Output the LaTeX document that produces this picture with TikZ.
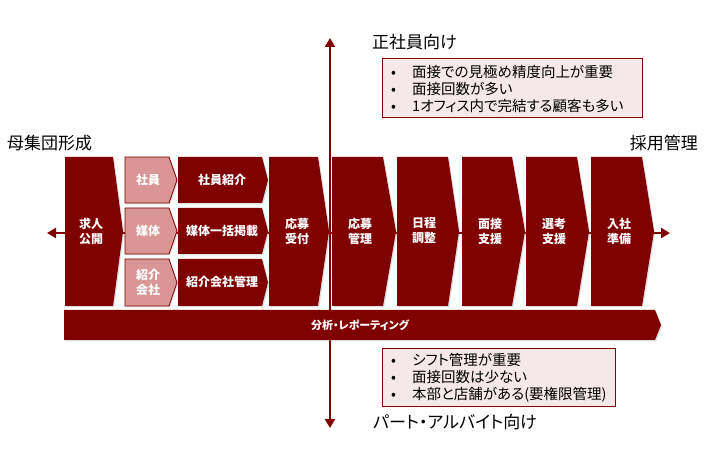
\documentclass[tikz,border=0pt]{standalone}
\usepackage{fontspec}
\setmainfont{Noto Sans CJK JP}
\newfontfamily\jpp{Noto Sans CJK JP}[RawFeature=+palt]
\usetikzlibrary{arrows.meta,shadows}
\definecolor{dred}{HTML}{800000}
\definecolor{pinkf}{HTML}{D99694}
\definecolor{infof}{HTML}{F5E8E8}
\tikzset{
  chev/.style={fill=dred, drop shadow={shadow xshift=1.2pt,shadow yshift=-1.5pt,opacity=0.25}},
  pchev/.style={fill=pinkf, draw=dred, line width=0.8pt, drop shadow={shadow xshift=1.2pt,shadow yshift=-1.5pt,opacity=0.25}},
  wlabel/.style={text=white, font=\bfseries\fontsize{12}{15}\selectfont, align=center, inner sep=0pt},
  blabel/.style={text=white, font=\bfseries\fontsize{11}{13}\selectfont, inner sep=0pt},
  head/.style={font=\fontsize{17}{20}\selectfont, inner sep=0pt},
  axis/.style={draw=dred, line width=2pt},
  infobox/.style={draw=dred, fill=infof, line width=1pt, inner sep=0pt},
  bullets/.style={font=\jpp\fontsize{14.5}{17}\selectfont, align=left, inner sep=0pt, anchor=west},
}
\newcommand\bul{\makebox[21pt][l]{•}}
\newcommand\chevshape[6]{% style, left, right, apex, top, bottom
  \path[#1] (#2,#5) -- (#3,#5) -- (#4,{(#5+#6)/2}) -- (#3,#6) -- (#2,#6) -- cycle;}
\begin{document}
\begin{tikzpicture}[x=1pt,y=-1pt]
\useasboundingbox (0,0) rectangle (705,449);
% axes
\coordinate (hl) at (47,233);
\coordinate (hr) at (670,233);
\coordinate (vt) at (330,38);
\coordinate (vb) at (330,428);
\draw[axis, {Triangle[width=10pt,length=9pt]}-{Triangle[width=10pt,length=9pt]}] (hl) -- (hr);
\draw[axis, {Triangle[width=10pt,length=9pt]}-{Triangle[width=10pt,length=9pt]}] (vt) -- (vb);
% main chevrons
\chevshape{chev}{65}{113}{123}{157}{306}
\chevshape{chev}{269}{318}{329}{157}{306}
\chevshape{chev}{332}{383}{396}{157}{306}
\chevshape{chev}{397}{448}{459}{157}{306}
\chevshape{chev}{462}{512}{525}{157}{306}
\chevshape{chev}{526}{577}{589}{157}{306}
\chevshape{chev}{591}{642}{654}{157}{306}
% small rows
\chevshape{pchev}{125}{169}{177}{157}{203}
\chevshape{pchev}{125}{169}{177}{208}{254}
\chevshape{pchev}{125}{169}{177}{259}{306}
\chevshape{chev}{178}{262}{268}{157}{203}
\chevshape{chev}{178}{262}{268}{208}{254}
\chevshape{chev}{178}{262}{268}{259}{306}
% bottom bar
\chevshape{chev}{64}{655}{661}{310}{340}
% labels
\node[wlabel] (kyujin) at (91,231) {求人\\公開};
\node[wlabel] (shain) at (148,180) {社員};
\node[wlabel] (baitai) at (148,231) {媒体};
\node[wlabel] (shokaigaisha) at (148,282) {紹介\\会社};
\node[wlabel] (shainshokai) at (222,180) {社員紹介};
\node[wlabel] (ikkatsu) at (222,231) {媒体一括掲載};
\node[wlabel] (kanri) at (222,282) {紹介会社管理};
\node[wlabel] (uketsuke) at (297,231) {応募\\受付};
\node[wlabel] (oubokanri) at (360,231) {応募\\管理};
\node[wlabel] (nittei) at (424,231) {日程\\調整};
\node[wlabel] (mensetsu) at (490,231) {面接\\支援};
\node[wlabel] (senko) at (554,231) {選考\\支援};
\node[wlabel] (nyusha) at (619,231) {入社\\準備};
\node[blabel] (bunseki) at (360,325) {\jpp 分析・レポーティング};
% headings
\node[head, anchor=west] (boshu) at (7,143) {母集団形成};
\node[head, anchor=east] (saiyo) at (698,143) {採用管理};
\node[head, anchor=west] (seishain) at (372,42) {正社員向け};
\node[head, anchor=west] (part) at (373,422) {\jpp パート・アルバイト向け};
% info boxes
\node[infobox, minimum width=260pt, minimum height=59pt] (topbox) at (512,88.5) {};
\node[bullets] (toplist) at (391,89) {\bul 面接での見極め精度向上が重要\\\bul 面接回数が多い\\\bul 1オフィス内で完結する顧客も多い};
\node[infobox, minimum width=233pt, minimum height=58pt] (botbox) at (498.5,378) {};
\node[bullets] (botlist) at (391,378) {\bul シフト管理が重要\\\bul 面接回数は少ない\\\bul 本部と店舗がある(要権限管理)};
\end{tikzpicture}
\end{document}
